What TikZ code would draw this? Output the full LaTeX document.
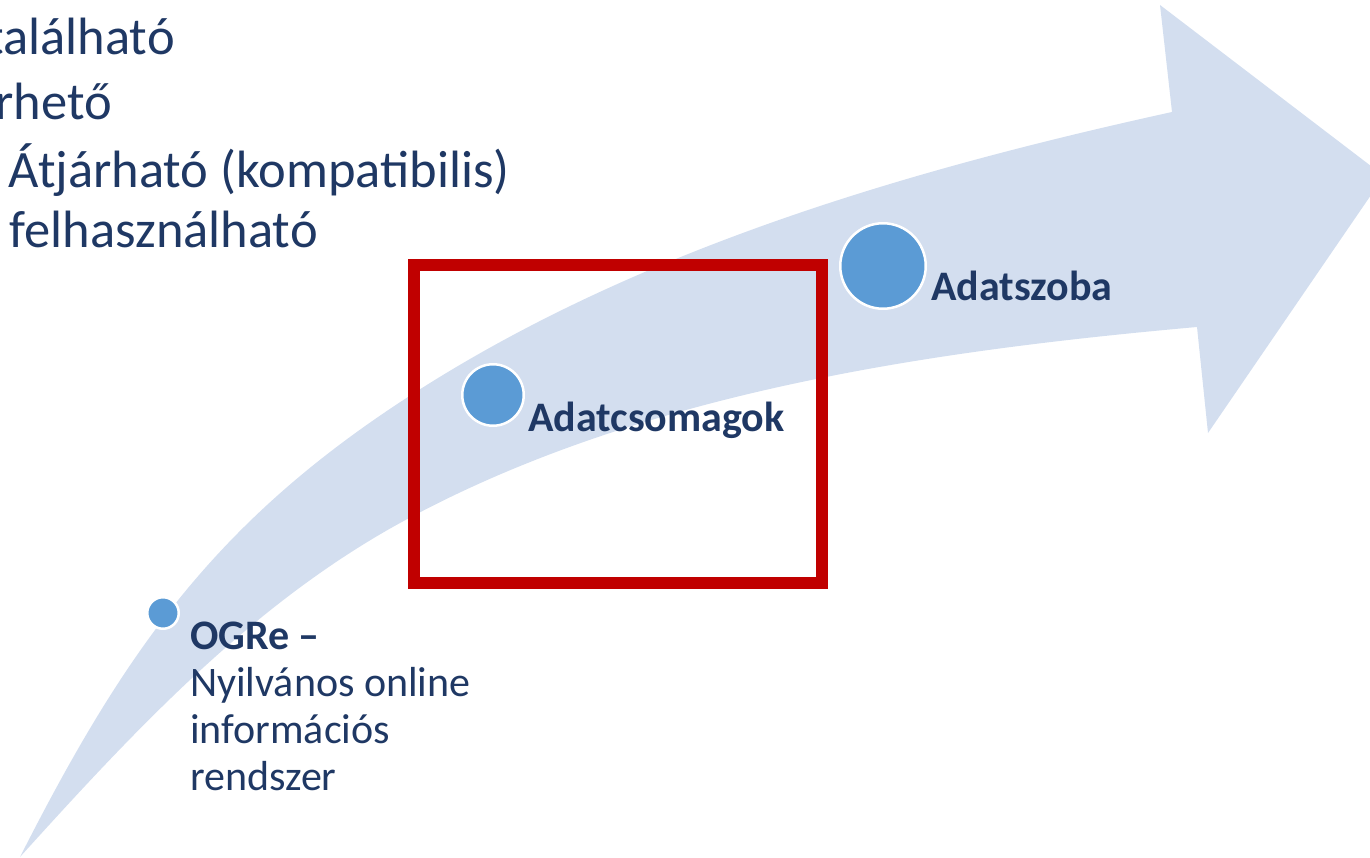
\documentclass[tikz,border=0pt]{standalone}
\usepackage{fontspec}
\setmainfont{Carlito}
\definecolor{navy}{HTML}{1F3864}
\definecolor{dotblue}{HTML}{5B9BD5}
\definecolor{bandblue}{HTML}{D3DEEF}
\definecolor{framered}{HTML}{C00000}
\tikzset{
  band/.style={fill=bandblue},
  frame/.style={draw=framered, line width=12pt, inner sep=0pt},
  dot/.style={circle, fill=dotblue, draw=white, line width=2.5pt, inner sep=0pt},
  lbl/.style={text=navy, font=\fontsize{42}{47}\selectfont, inner sep=0pt, align=left},
  lblb/.style={lbl, font=\fontsize{42}{47}\selectfont\bfseries},
  fair/.style={text=navy, font=\fontsize{52.5}{64}\selectfont, inner sep=0pt, anchor=base east},
}

\begin{document}
\begin{tikzpicture}[x=1pt, y=-1pt]
  \useasboundingbox (0,0) rectangle (1370,858);
  \clip (0,0) rectangle (1370,858);

  % curved arrow in the background
  \fill[band] (20,857) .. controls (124,652) and (215,522) .. (408,397)
    .. controls (634,250) and (908,170) .. (1172,112)
    -- (1160,5) -- (1384,176) -- (1208,433) -- (1197,327)
    .. controls (928,351) and (637,393) .. (400,523)
    .. controls (251,605) and (134,731) .. (20,857) -- cycle;

  % list, cut at the left edge
  \node[fair] (fairA) at (175,55) {található};
  \node[fair] (fairB) at (112,120) {rhető};
  \node[fair] (fairC) at (510,188) {Átjárható (kompatibilis)};
  \node[fair] (fairD) at (318,248) {felhasználható};

  \node[frame, minimum width=408, minimum height=317] (focus) at (618,424) {};

  \node[dot, minimum size=31.5] (ogre) at (163,613) {};
  \node[lbl, anchor=north west] (ogretxt) at (190,622) {\textbf{OGRe –}\\Nyilvános online\\információs\\rendszer};

  \node[dot, minimum size=61.5] (csomag) at (493,395) {};
  \node[lblb, anchor=base west] (csomagtxt) at (528,431) {Adatcsomagok};

  \node[dot, minimum size=85.5] (szoba) at (883,266) {};
  \node[lblb, anchor=base west] (szobatxt) at (931,301) {Adatszoba};
\end{tikzpicture}
\end{document}
